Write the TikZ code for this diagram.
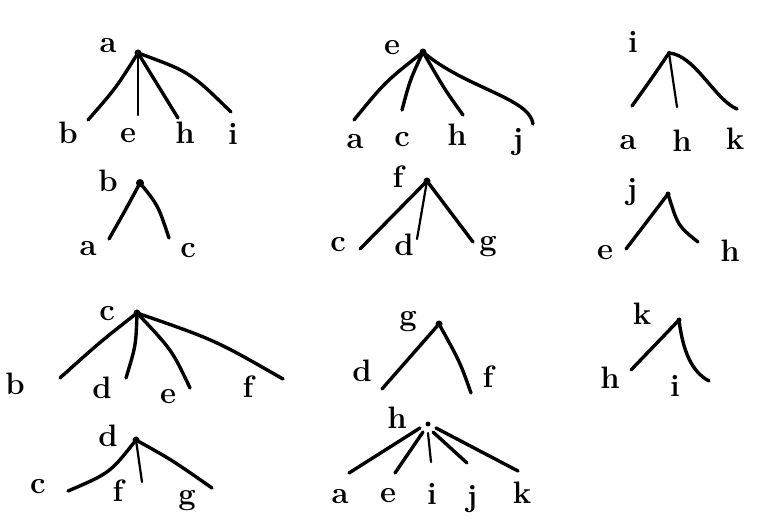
\documentclass[tikz,border=0pt]{standalone}
\begin{document}
\begin{tikzpicture}[x=1pt,y=-1pt,
  rootdot/.style={circle,fill=black,inner sep=0pt,minimum size=7pt},
  edge/.style={line width=3.4pt,line cap=round},
  thin edge/.style={line width=2.2pt,line cap=round},
  lab/.style={inner sep=0pt,font=\fontsize{31}{34}\selectfont\bfseries}]
\useasboundingbox (0,0) rectangle (761,529);
\fill[white] (0,0) rectangle (761,529);

% ---- tree a
\node[rootdot] (ra) at (138,53) {};
\node[lab] (la) at (108,46) {a};
\coordinate (ab) at (88,120);
\coordinate (ae) at (138,115);
\coordinate (ah) at (178,118);
\coordinate (ai) at (231,112);
\draw[edge] (ra.center) .. controls (116,88) .. (ab);
\draw[thin edge] (ra.center) -- (ae);
\draw[edge] (ra.center) -- (ah);
\draw[edge] (ra.center) .. controls (190,72) .. (ai);
\node[lab] (lab1) at (68,133) {b};
\node[lab] (lae) at (128,136) {e};
\node[lab] (lah) at (185,133) {h};
\node[lab] (lai) at (233,134) {i};

% ---- tree e
\node[rootdot] (re) at (423,52) {};
\node[lab] (le) at (392,48) {e};
\coordinate (ea) at (354,120);
\coordinate (ec) at (402,110);
\coordinate (eh) at (463,115);
\coordinate (ej) at (533,124);
\draw[edge] (re.center) .. controls (385,82) .. (ea);
\draw[edge] (re.center) .. controls (410,80) .. (ec);
\draw[edge] (re.center) .. controls (445,90) .. (eh);
\draw[edge] (re.center) .. controls (465,88) and (530,98) .. (ej);
\node[lab] (lea) at (355,142) {a};
\node[lab] (lec) at (402,140) {c};
\node[lab] (leh) at (457,135) {h};
\node[lab] (lej) at (518,142) {j};

% ---- tree i
\node[rootdot,minimum size=4pt] (ri) at (669,53) {};
\node[lab] (li) at (633,42) {i};
\coordinate (ia) at (632,106);
\coordinate (ih) at (677,107);
\coordinate (ik) at (737,109);
\draw[edge] (ri.center) .. controls (652,78) .. (ia);
\draw[thin edge] (ri.center) -- (ih);
\draw[edge] (ri.center) .. controls (695,55) and (715,100) .. (ik);
\node[lab] (lia) at (628,143) {a};
\node[lab] (lih) at (682,141) {h};
\node[lab] (lik) at (735,139) {k};

% ---- tree b
\node[rootdot,minimum size=8pt] (rb) at (140,183) {};
\node[lab] (lb) at (108,181) {b};
\coordinate (ba) at (109,239);
\coordinate (bc) at (169,238);
\draw[edge] (rb.center) .. controls (126,209) .. (ba);
\draw[edge] (rb.center) .. controls (158,205) .. (bc);
\node[lab] (lba) at (88,249) {a};
\node[lab] (lbc) at (188,251) {c};

% ---- tree f
\node[rootdot] (rf) at (427,181) {};
\node[lab] (lf) at (398,177) {f};
\coordinate (fc) at (360,249);
\coordinate (fd) at (417,239);
\coordinate (fg) at (473,242);
\draw[edge] (rf.center) -- (fc);
\draw[thin edge] (rf.center) -- (fd);
\draw[edge] (rf.center) -- (fg);
\node[lab] (lfc) at (338,245) {c};
\node[lab] (lfd) at (404,245) {d};
\node[lab] (lfg) at (488,247) {g};

% ---- tree j
\node[rootdot,minimum size=5pt] (rj) at (668,194) {};
\node[lab] (lj) at (632,192) {j};
\coordinate (je) at (626,249);
\coordinate (jh) at (698,242);
\draw[edge] (rj.center) -- (je);
\draw[edge] (rj.center) .. controls (678,226) .. (jh);
\node[lab] (lje) at (605,253) {e};
\node[lab] (ljh) at (730,251) {h};

% ---- tree c
\node[rootdot] (rc) at (137,313) {};
\node[lab] (lc) at (107,314) {c};
\coordinate (cb) at (60,378);
\coordinate (cd) at (126,378);
\coordinate (ce) at (190,388);
\coordinate (cf) at (283,379);
\draw[edge] (rc.center) .. controls (100,342) .. (cb);
\draw[edge] (rc.center) .. controls (136,345) .. (cd);
\draw[edge] (rc.center) .. controls (172,350) .. (ce);
\draw[edge] (rc.center) .. controls (215,340) .. (cf);
\node[lab] (lcb) at (15,384) {b};
\node[lab] (lcd) at (102,388) {d};
\node[lab] (lce) at (168,397) {e};
\node[lab] (lcf) at (248,387) {f};

% ---- tree g
\node[rootdot] (rg) at (439,324) {};
\node[lab] (lg) at (408,322) {g};
\coordinate (gd) at (382,389);
\coordinate (gf) at (471,393);
\draw[edge] (rg.center) -- (gd);
\draw[edge] (rg.center) .. controls (460,362) .. (gf);
\node[lab] (lgd) at (362,371) {d};
\node[lab] (lgf) at (488,377) {f};

% ---- tree k
\node[rootdot,minimum size=5pt] (rk) at (679,320) {};
\node[lab] (lk) at (642,314) {k};
\coordinate (kh) at (631,370);
\coordinate (ki) at (709,381);
\draw[edge] (rk.center) -- (kh);
\draw[edge] (rk.center) .. controls (683,352) and (692,372) .. (ki);
\node[lab] (lkh) at (610,378) {h};
\node[lab] (lki) at (675,386) {i};

% ---- tree d
\node[rootdot] (rd) at (136,440) {};
\node[lab] (ld) at (108,436) {d};
\coordinate (dc) at (68,491);
\coordinate (df) at (142,482);
\coordinate (dg) at (212,488);
\draw[edge] (rd.center) .. controls (110,473) .. (dc);
\draw[thin edge] (rd.center) -- (df);
\draw[edge] (rd.center) .. controls (172,460) .. (dg);
\node[lab] (ldc) at (38,487) {c};
\node[lab] (ldf) at (118,491) {f};
\node[lab] (ldg) at (187,501) {g};

% ---- tree h
\node[rootdot,minimum size=5pt] (rh) at (428,424) {};
\node[lab] (lh) at (397,418) {h};
\coordinate (ha) at (349,473);
\coordinate (he) at (395,473);
\coordinate (hi) at (431,462);
\coordinate (hj) at (467,463);
\coordinate (hk) at (518,471);
\draw[edge] ([xshift=-8pt,yshift=-4pt]rh.center) -- (ha);
\draw[edge] ([xshift=-5pt,yshift=-8pt]rh.center) -- (he);
\draw[thin edge] ([xshift=0pt,yshift=-9pt]rh.center) -- (hi);
\draw[edge] ([xshift=5pt,yshift=-8pt]rh.center) -- (hj);
\draw[edge] ([xshift=8pt,yshift=-4pt]rh.center) -- (hk);
\node[lab] (lha) at (340,497) {a};
\node[lab] (lhe) at (388,496) {e};
\node[lab] (lhi) at (432,494) {i};
\node[lab] (lhj) at (472,499) {j};
\node[lab] (lhk) at (522,493) {k};
\end{tikzpicture}
\end{document}
